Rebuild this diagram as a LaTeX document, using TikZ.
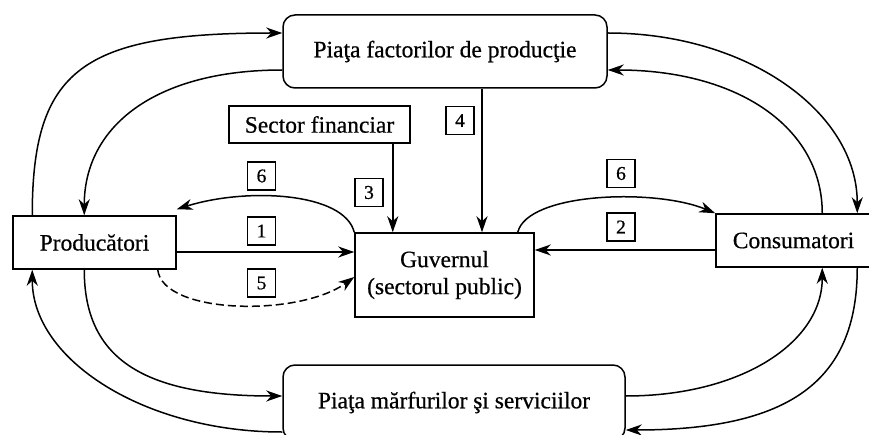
\documentclass[tikz,border=0pt]{standalone}
\usepackage{fontspec}
\setmainfont[FakeBold=0.6]{Liberation Serif}
\usetikzlibrary{arrows.meta}
\begin{document}
\begin{tikzpicture}[x=1pt,y=1pt,
  mainbox/.style={draw, line width=1.5pt, inner sep=0pt, align=center,
    font=\fontsize{23.5}{27}\selectfont},
  rbox/.style={mainbox, rounded corners=12pt},
  numbox/.style={draw, line width=1.3pt, minimum width=28pt, minimum height=28pt,
    inner sep=0pt, font=\fontsize{19.5}{20}\selectfont},
  arr/.style={line width=1.5pt, -{Stealth[length=16pt,width=11pt,inset=5pt]}},
  dash5/.style={dash pattern=on 8pt off 4pt}]
\clip (0,0) rectangle (869,434);
\fill[white] (0,0) rectangle (869,434);
% main boxes
\node[rbox, minimum width=324pt, minimum height=73pt] (fact) at (445,382.5) {Piaţa factorilor de producţie};
\node[mainbox, minimum width=181pt, minimum height=37pt] (sf) at (319.5,309.5) {Sector financiar};
\node[mainbox, minimum width=163pt, minimum height=53pt] (prod) at (94.5,191.5) {Producători};
\node[mainbox, minimum width=179pt, minimum height=84pt] (guv) at (444.5,159) {Guvernul\\(sectorul public)};
\node[mainbox, minimum width=155pt, minimum height=53pt] (cons) at (793.5,193.5) {Consumatori};
\node[rbox, minimum width=342pt, minimum height=75pt] (marf) at (454,31.5) {Piaţa mărfurilor şi serviciilor};
% number labels
\node[numbox] (n4) at (460,313.5) {4};
\node[numbox] (n6a) at (261.5,258) {6};
\node[numbox] (n3) at (369,241.5) {3};
\node[numbox] (n1) at (261.5,203) {1};
\node[numbox] (n5) at (261.5,151) {5};
\node[numbox] (n2) at (621,207) {2};
\node[numbox] (n6b) at (621,260.5) {6};
% outer loops
\draw[arr] ([xshift=20pt]prod.north west) .. controls +(0,146) and +(-200,0) .. ([yshift=18.5pt]fact.west);
\draw[arr] ([yshift=-18.5pt]fact.west) .. controls +(-127,0) and +(0,89) .. ([xshift=72pt]prod.north west);
\draw[arr] ([yshift=18.5pt]fact.east) .. controls +(140,0) and +(0,101) .. ([xshift=142pt]cons.north west);
\draw[arr] ([xshift=107pt]cons.north west) .. controls +(0,86) and +(130,0) .. ([yshift=-18.5pt]fact.east);
\draw[arr] ([xshift=72pt]prod.south west) .. controls +(0,-89) and +(-139,0) .. ([yshift=6.5pt]marf.west);
\draw[arr] ([yshift=-29.5pt]marf.west) .. controls +(-138,0) and +(0,-90) .. ([xshift=20pt]prod.south west);
\draw[arr] ([xshift=142pt]cons.south west) .. controls +(0,-114) and +(163,0) .. ([yshift=-27.5pt]marf.east);
\draw[arr] ([yshift=6.5pt]marf.east) .. controls +(115,0) and +(0,-75) .. ([xshift=107pt]cons.south west);
% inner flows
\coordinate (sfo) at ([xshift=-18pt]sf.south east);
\draw[arr] (sfo) -- (sfo |- guv.north);
\coordinate (fo) at ([xshift=37pt]fact.south);
\draw[arr] (fo) -- (fo |- guv.north);
\coordinate (p1) at ([yshift=-9.5pt]prod.east);
\draw[arr] (p1) -- (p1 -| guv.west);
\coordinate (c2) at ([yshift=-9.5pt]cons.west);
\draw[arr] (c2) -- (c2 -| guv.east);
\draw[arr] (guv.north west) .. controls +(-10,40) and +(70,22) .. ([yshift=6pt]prod.north east);
\draw[arr] ([xshift=-17pt]guv.north east) .. controls +(10,40) and +(-60,25) .. (cons.north west);
\draw[arr, dash5] ([xshift=-19pt]prod.south east) .. controls +(5,-45) and +(-55,-40) .. ([yshift=-2pt]guv.west);
\end{tikzpicture}
\end{document}
